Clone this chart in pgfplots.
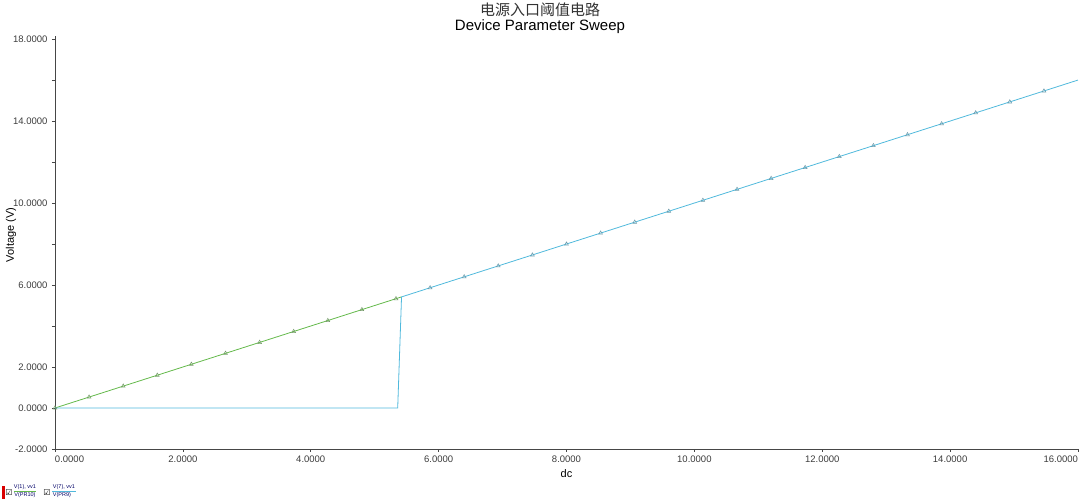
\documentclass[border=0pt]{standalone}
\usepackage{fontspec}
\setmainfont{Liberation Sans}
\newfontfamily\cjk{Noto Sans CJK SC}
\newfontfamily\dejavu{DejaVu Sans}
\usepackage{pgfplots}
\pgfplotsset{compat=1.18}
\definecolor{lgreen}{RGB}{100,185,75}
\definecolor{lblue}{RGB}{80,185,220}
\definecolor{axgray}{RGB}{70,70,70}
\definecolor{lblgray}{RGB}{60,60,60}

\begin{document}
\begin{tikzpicture}
\path[use as bounding box] (-55pt,-53pt) rectangle (1025pt,449pt);
\begin{axis}[
  at={(0pt,0pt)}, anchor=south west,
  scale only axis, width=1023pt, height=413pt,
  xmin=0, xmax=16, ymin=-2, ymax=18.15,
  axis x line=bottom, axis y line=left,
  axis line style={-, draw=axgray, line width=0.8pt},
  clip=false,
  tick align=outside,
  major tick length=3pt, minor tick length=3pt,
  tick style={draw=axgray, line width=0.6pt},
  xtick={0,2,4,6,8,10,12,14,16},
  xticklabels={\rlap{0.0000},2.0000,4.0000,6.0000,8.0000,10.0000,12.0000,14.0000,\llap{16.0000}},
  ytick={-2,0,2,6,10,14,18},
  yticklabels={-2.0000,0.0000,2.0000,6.0000,10.0000,14.0000,18.0000},
  minor ytick={4,8,12,16},
  ticklabel style={font=\fontsize{9.5}{10}\selectfont, text=lblgray},
  yticklabel style={xshift=-1pt},
  xlabel={dc},
  label style={font=\fontsize{11}{12}\selectfont, text=black},
]
\addplot[lgreen, line width=0.8pt] coordinates {(0,0) (5.42,5.42)};
\addplot[lblue, line width=0.8pt] coordinates {(0,0) (5.36,0) (5.42,5.42) (16,16)};
\addplot[only marks, mark=triangle, mark size=2.2pt, mark options={draw=lgreen!45!gray, line width=0.5pt}] coordinates {
(0,0) (0.533,0.533) (1.067,1.067) (1.6,1.6) (2.133,2.133) (2.667,2.667) (3.2,3.2) (3.733,3.733) (4.267,4.267) (4.8,4.8) (5.333,5.333)};
\addplot[only marks, mark=triangle, mark size=2.2pt, mark options={draw=lblue!45!gray, line width=0.5pt}] coordinates {
(5.867,5.867) (6.4,6.4) (6.933,6.933) (7.467,7.467) (8,8) (8.533,8.533) (9.067,9.067) (9.6,9.6) (10.133,10.133) (10.667,10.667) (11.2,11.2) (11.733,11.733) (12.267,12.267) (12.8,12.8) (13.333,13.333) (13.867,13.867) (14.4,14.4) (14.933,14.933) (15.467,15.467)};
\end{axis}
\node[rotate=90, font=\fontsize{11}{12}\selectfont, text=black] at (-44pt,214pt) {Voltage (V)};
\node[font=\cjk\fontsize{15}{16}\selectfont, text=black!80] at (485pt,439pt) {电源入口阈值电路};
\node[font=\fontsize{15}{16}\selectfont, text=black] at (485pt,422pt) {Device Parameter Sweep};
% legend
\fill[red!85!black] (-53pt,-37pt) rectangle (-50pt,-50pt);
\node[font=\dejavu\fontsize{8}{8}\selectfont, inner sep=0pt] at (-46pt,-44pt) {☑};
\node[font=\fontsize{5.5}{5.5}\selectfont, text=blue!40!black, inner sep=0pt] at (-30pt,-38.5pt) {V(1), vv1};
\draw[lgreen, line width=0.5pt] (-41pt,-42pt) -- (-19pt,-42pt);
\node[font=\fontsize{5.5}{5.5}\selectfont, text=blue!40!black, inner sep=0pt] at (-30pt,-46pt) {V(PR10)};
\node[font=\dejavu\fontsize{8}{8}\selectfont, inner sep=0pt] at (-8pt,-44pt) {☑};
\node[font=\fontsize{5.5}{5.5}\selectfont, text=blue!40!black, inner sep=0pt] at (9pt,-38.5pt) {V(7), vv1};
\draw[lblue, line width=0.5pt] (-3pt,-42pt) -- (21pt,-42pt);
\node[font=\fontsize{5.5}{5.5}\selectfont, text=blue!40!black, inner sep=0pt] at (7pt,-46pt) {V(PR9)};
\end{tikzpicture}
\end{document}
